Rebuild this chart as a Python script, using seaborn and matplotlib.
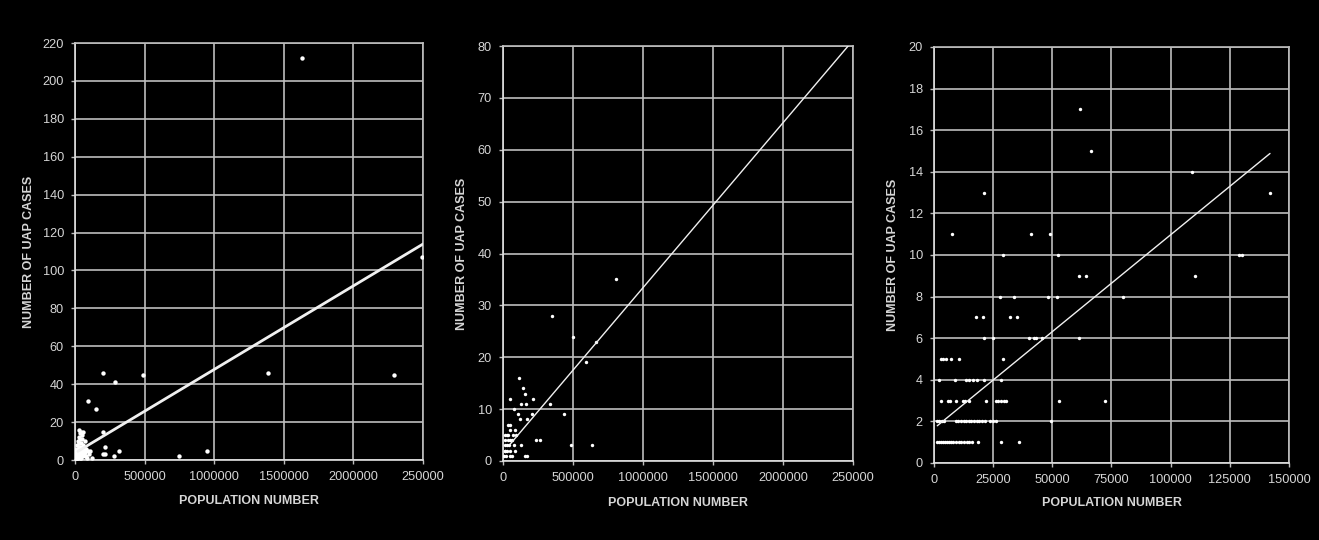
import matplotlib
matplotlib.use("Agg")
import matplotlib.pyplot as plt
import numpy as np
import pandas as pd
import seaborn as sns

# ---------------------------------------------------------------------------
# Data: population of each locality vs. number of UAP cases reported there
# ---------------------------------------------------------------------------

# Panel A - all localities (large cities included)
pop_a = [1630000, 2495000, 2295000, 1387000, 201000, 485000, 288000, 93000,
         149000, 199000, 215000, 200000, 214000, 281000, 318000, 750000,
         946000, 124000, 108000,
         30000, 45000, 38000, 52000, 60000, 25000, 33000, 70000, 18000, 42000,
         55000, 12000, 27000, 64000, 80000, 36000, 8000, 20000, 47000, 90000,
         75000, 15000, 33000, 5000, 22000, 58000, 40000, 3000, 10000, 28000,
         50000, 68000, 2000, 6000, 14000, 24000, 35000, 44000, 85000, 98000,
         62000, 9000, 17000, 31000, 4000, 26000, 48000, 11000, 7000, 19000,
         39000, 53000, 66000, 78000, 13000, 29000, 1000, 56000, 23000]
cases_a = [212, 107, 45, 46, 46, 45, 41, 31,
           27, 15, 7, 3, 3, 2, 5, 2,
           5, 1, 5,
           16, 15, 14, 13, 15, 12, 11, 10, 10, 9,
           8, 8, 7, 7, 6, 6, 6, 5, 5, 5,
           4, 4, 4, 3, 3, 3, 3, 2, 2, 2,
           2, 2, 1, 1, 1, 1, 1, 1, 1, 3,
           4, 4, 2, 5, 5, 9, 11, 3, 2, 6,
           7, 4, 3, 2, 1, 3, 1, 6, 4]
trend_a = {"intercept": 3.7, "slope": 4.41e-5, "x_from": 20000, "x_to": 2500000}

# Panel B - localities with up to ~1 million inhabitants
pop_b = [805000, 352000, 500000, 667000, 595000, 633000, 488000, 433000,
         338000, 238000, 262000, 210000, 214000, 162000, 126000, 112000,
         143000, 160000, 171000, 119000, 110000, 52000, 76000, 131000,
         155000, 171000, 36000, 52000, 52000, 83000,
         12000, 29000, 71000, 95000, 12000, 36000, 65000,
         12000, 40000, 76000, 12000, 29000, 52000, 88000,
         10000, 24000, 48000, 64000, 14000, 26000, 38000, 52000]
cases_b = [35, 28, 24, 23, 19, 3, 3, 9,
           11, 4, 4, 9, 12, 11, 11, 16,
           14, 13, 8, 8, 9, 12, 10, 3,
           1, 1, 7, 7, 6, 6,
           5, 5, 5, 5, 4, 4, 4,
           3, 3, 3, 2, 2, 2, 2,
           1, 1, 1, 1, 2, 3, 5, 4]
trend_b = {"intercept": 1.6, "slope": 3.18e-5, "x_from": 50000, "x_to": 2500000}

# Panel C - localities below 150 000 inhabitants
pop_c = [61700, 66200, 21200, 142200, 109100, 7500, 41200, 49200, 29100,
         52500, 128900, 130200, 61400, 64100, 110100, 28000, 33700, 48100,
         51800, 79800, 17800, 20600, 32000, 35100, 21200, 24900, 40200,
         42200, 43300, 45800, 61400,
         2800, 4000, 5100, 7200, 10500, 29100,
         2000, 8900, 13600, 14700, 16400, 18100, 21200, 28300,
         3000, 6100, 6800, 9100, 12200, 13300, 14700, 22100, 26000, 27200,
         28400, 29400, 30300, 52900, 72200,
         1400, 2300, 3400, 4200, 9100, 10200, 11300, 12500, 13600, 14700,
         15800, 17000, 18100, 19200, 20400, 21400, 23800, 24900, 26000, 49500,
         1400, 2300, 3100, 4000, 4800, 5700, 6500, 7400, 8200, 9300, 10500,
         11600, 12700, 13900, 15000, 16100, 18700, 28300, 35800]
cases_c = [17, 15, 13, 13, 14, 11, 11, 11, 10,
           10, 10, 10, 9, 9, 9, 8, 8, 8,
           8, 8, 7, 7, 7, 7, 6, 6, 6,
           6, 6, 6, 6,
           5, 5, 5, 5, 5, 5,
           4, 4, 4, 4, 4, 4, 4, 4,
           3, 3, 3, 3, 3, 3, 3, 3, 3, 3,
           3, 3, 3, 3, 3,
           2, 2, 2, 2, 2, 2, 2, 2, 2, 2,
           2, 2, 2, 2, 2, 2, 2, 2, 2, 2,
           1, 1, 1, 1, 1, 1, 1, 1, 1, 1, 1,
           1, 1, 1, 1, 1, 1, 1, 1]
trend_c = {"intercept": 1.66, "slope": 9.31e-5, "x_from": 1400, "x_to": 142000}

# Axis ticks
xticks_a = [0, 500000, 1000000, 1500000, 2000000, 2500000]
xlabels_a = ["0", "500000", "1000000", "1500000", "2000000", "250000"]
yticks_a = list(range(0, 221, 20))
xticks_c = [0, 25000, 50000, 75000, 100000, 125000, 150000]
xlabels_c = ["0", "25000", "50000", "75000", "100000", "125000", "150000"]
yticks_b = list(range(0, 81, 10))
yticks_c = list(range(0, 21, 2))

x_title = "POPULATION NUMBER"
y_title = "NUMBER OF UAP CASES"

# ---------------------------------------------------------------------------
# Styling
# ---------------------------------------------------------------------------
sns.set_theme(style="darkgrid")
grid_col = "#bdbdbd"
text_col = "#d6d6d6"
plt.rcParams.update({
    "figure.facecolor": "black",
    "axes.facecolor": "black",
    "axes.edgecolor": grid_col,
    "axes.linewidth": 1.2,
    "grid.color": grid_col,
    "grid.linewidth": 1.2,
    "xtick.color": grid_col,
    "ytick.color": grid_col,
    "xtick.labelcolor": text_col,
    "ytick.labelcolor": text_col,
    "xtick.bottom": True,
    "ytick.left": True,
    "xtick.major.size": 3,
    "ytick.major.size": 3,
    "xtick.major.width": 1.0,
    "ytick.major.width": 1.0,
    "xtick.direction": "out",
    "ytick.direction": "out",
    "axes.labelcolor": text_col,
})
plt.rcParams["font.family"] = ["Liberation Sans", "DejaVu Sans"]

fig = plt.figure(figsize=(13.19, 5.40), dpi=100)

panels = [
    dict(rect=[0.0569, 0.1481, 0.2638, 0.7722], pop=pop_a, cases=cases_a,
         trend=trend_a, xlim=(0, 2500000), ylim=(0, 220),
         xticks=xticks_a, xlabels=xlabels_a, yticks=yticks_a,
         msize=10, lw=2.0, ylab_x=-0.114, xlab_y=-0.083),
    dict(rect=[0.3813, 0.1463, 0.2654, 0.7685], pop=pop_b, cases=cases_b,
         trend=trend_b, xlim=(0, 2500000), ylim=(0, 80),
         xticks=xticks_a, xlabels=xlabels_a, yticks=yticks_b,
         msize=6, lw=1.0, ylab_x=-0.100, xlab_y=-0.086),
    dict(rect=[0.7081, 0.1426, 0.2691, 0.7704], pop=pop_c, cases=cases_c,
         trend=trend_c, xlim=(0, 150000), ylim=(0, 20),
         xticks=xticks_c, xlabels=xlabels_c, yticks=yticks_c,
         msize=6, lw=1.0, ylab_x=-0.098, xlab_y=-0.081),
]

for p in panels:
    ax = fig.add_axes(p["rect"])
    df = pd.DataFrame({"population": p["pop"], "cases": p["cases"]})
    sns.scatterplot(data=df, x="population", y="cases", ax=ax,
                    color="white", s=p["msize"], linewidth=0, zorder=3)

    t = p["trend"]
    tx = np.array([t["x_from"], t["x_to"]], dtype=float)
    ty = t["intercept"] + t["slope"] * tx
    sns.lineplot(x=tx, y=ty, ax=ax, color="#f0f0f0", linewidth=p["lw"],
                 zorder=4)

    ax.set_xlim(*p["xlim"])
    ax.set_ylim(*p["ylim"])
    ax.set_xticks(p["xticks"])
    ax.set_xticklabels(p["xlabels"])
    ax.set_yticks(p["yticks"])
    ax.grid(True, axis="both")
    ax.set_axisbelow(True)
    ax.tick_params(axis="both", labelsize=9.2, pad=5)
    for sp in ax.spines.values():
        sp.set_visible(True)
        sp.set_color(grid_col)
    ax.spines["left"].set_color("#e0e0e0")
    ax.spines["bottom"].set_color("#e0e0e0")

    ax.set_xlabel(x_title, fontsize=9, fontweight="bold", color=text_col)
    ax.set_ylabel(y_title, fontsize=9, fontweight="bold", color=text_col)
    ax.xaxis.set_label_coords(0.5, p["xlab_y"])
    ax.yaxis.set_label_coords(p["ylab_x"], 0.5)

fig.savefig("out.png", dpi=100, facecolor="black")
